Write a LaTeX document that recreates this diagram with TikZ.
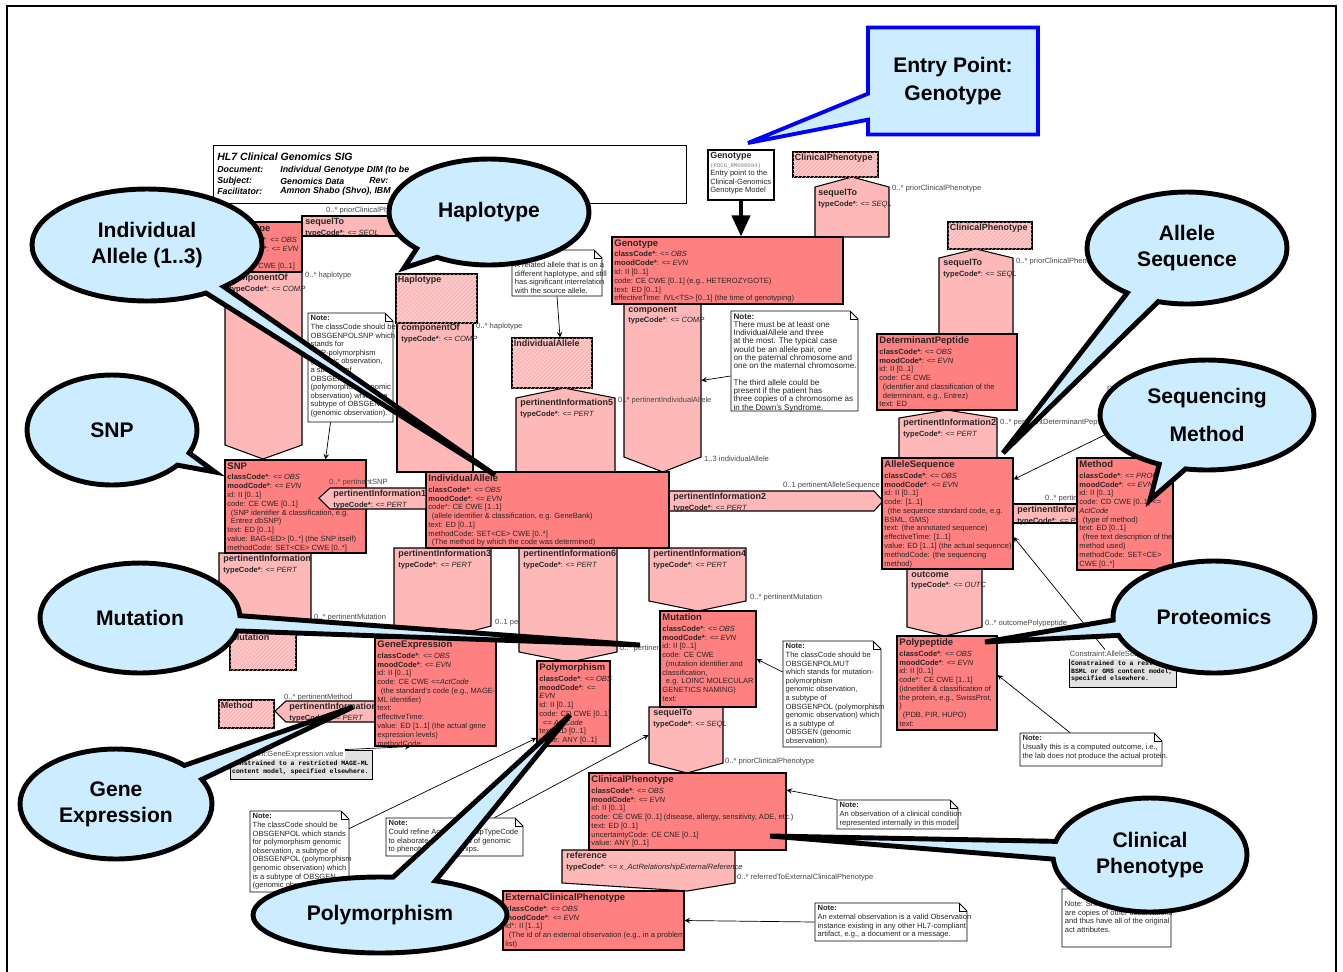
\documentclass[tikz,border=0pt]{standalone}
\usepackage{fontspec}
\setmainfont{Liberation Sans}
\setmonofont{Liberation Mono}
\usetikzlibrary{arrows.meta,fit,shapes.callouts,patterns.meta}

\definecolor{actred}{RGB}{255,128,128}
\definecolor{relpink}{RGB}{255,184,184}
\definecolor{cmetpink}{RGB}{255,200,200}
\definecolor{hatchred}{RGB}{242,168,168}
\definecolor{bubbleblue}{RGB}{204,236,255}
\definecolor{entryblue}{RGB}{0,0,255}
\definecolor{consgray}{RGB}{226,226,226}
\definecolor{lblgray}{RGB}{70,70,70}

\newcommand\clstxt{\fontsize{4.3}{5}\selectfont}
\newcommand\clstitle{\fontsize{5.4}{6}\selectfont\bfseries}
\newcommand\reltitle{\fontsize{5.1}{5.6}\selectfont\bfseries}
\newcommand\notetxt{\fontsize{4.3}{4.9}\selectfont}
\newcommand\bubtxt{\fontsize{12}{14.7}\selectfont\bfseries}
\newcommand\clscode[1]{\textbf{classCode*}: \textit{<= #1}}
\newcommand\moodcode[1]{\textbf{moodCode*}: \textit{<= #1}}
\newcommand\typecode[1]{\textbf{typeCode*}: \textit{<= #1}}
\newcommand\notebox[5]{%
  \draw[notedraw] (#2,#3) -- (#4-8,#3) -- (#4,#3+8) -- (#4,#5) -- (#2,#5) -- cycle;
  \draw[line width=0.4pt] (#4-8,#3) -- (#4-8,#3+8) -- (#4,#3+8);
  \node[fit={(#2,#3) (#4,#5)}, inner sep=0pt] (#1) {};}

\tikzset{
  actbox/.style={draw, fill=actred, inner sep=0pt, line width=0.6pt},
  cmetbox/.style={draw, fill=cmetpink, inner sep=0pt, line width=0.6pt,
    postaction={pattern={Lines[angle=45,distance=1.6pt,line width=0.3pt]}, pattern color=hatchred}},
  relshape/.style={draw, fill=relpink, line width=0.6pt},
  boxtext/.style={anchor=north west, align=left, inner sep=1.5pt, font=\clstxt, text=black!85},
  reltext/.style={anchor=north west, align=left, inner sep=1.2pt, font=\clstxt, text=black!85},
  notetext/.style={anchor=north west, align=left, inner sep=1.5pt, font=\notetxt, text=black!85},
  lbl/.style={anchor=west, inner sep=0.5pt, font=\clstxt, text=lblgray},
  notedraw/.style={draw, fill=white, line width=0.5pt},
  consbox/.style={draw, fill=consgray, inner sep=0pt, line width=0.5pt},
  constext/.style={anchor=north west, align=left, inner sep=1pt, font=\fontsize{3.7}{4.3}\selectfont\ttfamily\bfseries},
  hdrrow/.style={anchor=west, inner sep=0pt, font=\fontsize{5}{6}\selectfont\bfseries\itshape},
  link/.style={->, line width=0.4pt},
  bubble/.style={ellipse callout, draw, fill=bubbleblue, line width=2.8pt, font=\bubtxt, align=center, inner sep=0pt},
}

\begin{document}
\begin{tikzpicture}[x=0.02cm, y=-0.02cm, >=stealth]
\useasboundingbox (0,0) rectangle (1343,971);
\draw[line width=1.2pt] (7,975) -- (7,6) -- (1336,6) -- (1336,975);

\node[draw, fit={(213,145) (686,203)}, inner sep=0pt, line width=0.5pt] (header) {};
\node[anchor=west, inner sep=0pt, font=\fontsize{6}{7}\selectfont\bfseries\itshape] (hdrtitle) at (217,157) {HL7 Clinical Genomics SIG};
\node[hdrrow] (hdrdoc) at (217,170) {Document:};
\node[hdrrow] (hdrdocv) at (280,170) {Individual Genotype DIM (to be};
\node[hdrrow] (hdrsub) at (217,181) {Subject:};
\node[hdrrow] (hdrsubv) at (280,181) {Genomics Data};
\node[hdrrow] (hdrrev) at (369,181) {Rev:};
\node[hdrrow] (hdrfac) at (217,191) {Facilitator:};
\node[hdrrow] (hdrfacv) at (280,191) {Amnon Shabo (Shvo), IBM};

\node[lbl] (lblgenexp) at (494,623) {0..1 pertinentGeneExpression};

\draw[relshape] (815,237) -- (815,187) -- (852,177) -- (889,187) -- (889,237) -- cycle;
\node[reltext] (seqtoptxt) at (816,187) {{\reltitle sequelTo}\\[0.8pt]\typecode{SEQL}};
\draw[relshape] (302,216) rectangle (396,236);
\node[reltext] (seqlefttxt) at (303,216) {{\reltitle sequelTo}\\[0.8pt]\typecode{SEQL}};
\draw[relshape] (225,272) -- (302,272) -- (302,445) -- (263,459) -- (225,445) -- cycle;
\node[reltext] (compofatxt) at (227,272) {{\reltitle componentOf}\\[0.8pt]\typecode{COMP}};
\draw[relshape] (397,322) rectangle (473,472);
\node[reltext] (compofbtxt) at (399,322) {{\reltitle componentOf}\\[0.8pt]\typecode{COMP}};
\draw[relshape] (516,472) -- (516,398) -- (564,388) -- (615,398) -- (615,472) -- cycle;
\node[reltext] (pi5txt) at (518,397) {{\reltitle pertinentInformation5}\\[0.8pt]\typecode{PERT}};
\node[fit={(624,304) (701,457)}, inner sep=0pt] (component) {};
\draw[relshape] (624,304) -- (701,304) -- (701,457) -- (663,472) -- (624,457) -- cycle;
\node[reltext] (comptxt) at (626,304) {{\reltitle component}\\[0.8pt]\typecode{COMP}};
\draw[relshape] (219,553) -- (311,553) -- (311,620) -- (265,632) -- (219,620) -- cycle;
\node[reltext] (pisnptxt) at (221,553) {{\reltitle pertinentInformation}\\[0.8pt]\typecode{PERT}};
\draw[relshape] (394,548) -- (491,548) -- (491,626) -- (442,639) -- (394,626) -- cycle;
\node[reltext] (pi3txt) at (396,548) {{\reltitle pertinentInformation3}\\[0.8pt]\typecode{PERT}};
\draw[relshape] (519,548) -- (617,548) -- (617,652) -- (570,662) -- (519,652) -- cycle;
\node[reltext] (pi6txt) at (521,548) {{\reltitle pertinentInformation6}\\[0.8pt]\typecode{PERT}};
\draw[relshape] (649,548) -- (746,548) -- (746,601) -- (698,611) -- (649,601) -- cycle;
\node[reltext] (pi4txt) at (651,548) {{\reltitle pertinentInformation4}\\[0.8pt]\typecode{PERT}};
\node[fit={(649,707) (723,763)}, inner sep=0pt] (seqlow) {};
\draw[relshape] (649,707) -- (723,707) -- (723,763) -- (687,773) -- (649,763) -- cycle;
\node[reltext] (seqlowtxt) at (651,707) {{\reltitle sequelTo}\\[0.8pt]\typecode{SEQL}};
\draw[relshape] (375,701) -- (286,701) -- (275,711) -- (286,722) -- (375,722) -- cycle;
\node[reltext] (pigetxt) at (287,701) {{\reltitle pertinentInformation}\\[0.8pt]\typecode{PERT}};
\draw[relshape] (669,491) -- (874,491) -- (883,501) -- (874,511) -- (669,511) -- cycle;
\node[reltext] (pi2txt) at (671,491) {{\reltitle pertinentInformation2}\\[0.8pt]\typecode{PERT}};
\draw[relshape] (939,334) -- (939,258) -- (976,249) -- (1013,258) -- (1013,334) -- cycle;
\node[reltext] (seqrighttxt) at (941,257) {{\reltitle sequelTo}\\[0.8pt]\typecode{SEQL}};
\draw[relshape] (899,458) -- (899,418) -- (947,410) -- (997,418) -- (997,458) -- cycle;
\node[reltext] (pi2btxt) at (901,417) {{\reltitle pertinentInformation2}\\[0.8pt]\typecode{PERT}};
\draw[relshape] (1013,504) rectangle (1077,523);
\begin{scope}
  \clip (1013,490) rectangle (1077,530);
  \node[reltext] (pimtxt) at (1015,504) {{\reltitle pertinentInform}\\[0.8pt]\typecode{PE}};
  \node[lbl] (lblmeth2) at (1044,499) {0..* pertin};
\end{scope}
\draw[relshape] (907,569) -- (982,569) -- (982,627) -- (945,636) -- (907,627) -- cycle;
\node[reltext] (outctxt) at (909,569) {{\reltitle outcome}\\[0.8pt]\typecode{OUTC}};
\draw[relshape] (562,850) -- (735,850) -- (735,883) -- (687,891) -- (562,883) -- cycle;
\node[reltext] (reftxt) at (564,850) {{\reltitle reference}\\[0.8pt]\typecode{x\_ActRelationshipExternalReference}};

\node[lbl] (lblprior1) at (891,189) {0..* priorClinicalPhenotype};
\node[lbl] (lblprior2) at (325,211) {0..* priorClinicalPhenotype};
\node[lbl] (lblhap1) at (304,276) {0..* haplotype};
\node[lbl] (lblhap2) at (475,327) {0..* haplotype};
\node[lbl] (lblindiv) at (617,401) {0..* pertinentIndividualAllele};
\node[lbl] (lblia) at (703,459) {1..3 individualAllele};
\node[lbl] (lblas) at (782,486) {0..1 pertinentAlleleSequence};
\node[lbl] (lblprior3) at (1015,262) {0..* priorClinicalPhenotype};
\node[lbl] (lbldp) at (999,423) {0..* pertinentDeterminantPeptide};
\node[lbl] (lblmut1) at (313,618) {0..* pertinentMutation};
\begin{scope}
  \clip (610,640) rectangle (660,660);
  \node[lbl] (lblpoly) at (619,649) {0..* pertinen};
\end{scope}
\node[lbl] (lblmut2) at (749,598) {0..* pertinentMutation};
\node[lbl] (lblpp) at (984,624) {0..* outcomePolypeptide};
\node[lbl] (lblmeth1) at (283,698) {0..* pertinentMethod};
\node[lbl] (lblprior4) at (724,762) {0..* priorClinicalPhenotype};
\node[lbl] (lblext) at (736,878) {0..* referredToExternalClinicalPhenotype};

\node[cmetbox, fit={(793,152) (878,177)}] (cphtop) {};
\node[reltext] at (cphtop.north west) {\reltitle ClinicalPhenotype};
\node[cmetbox, fit={(948,222) (1032,249)}] (cphright) {};
\node[reltext] at (cphright.north west) {\reltitle ClinicalPhenotype};
\node[cmetbox, fit={(396,274) (477,323)}] (hapcmet) {};
\node[reltext] at (hapcmet.north west) {\reltitle Haplotype};
\node[cmetbox, fit={(512,338) (592,388)}] (iacmet) {};
\node[reltext] at (iacmet.north west) {\reltitle IndividualAllele};
\node[cmetbox, fit={(230,632) (296,670)}] (mutcmet) {};
\node[reltext] at (mutcmet.north west) {\reltitle Mutation};
\node[cmetbox, fit={(219,700) (274,728)}] (methcmet) {};
\node[reltext] at (methcmet.north west) {\reltitle Method};

\node[actbox, fit={(612,237) (843,304)}] (genotype) {};
\node[boxtext] at (genotype.north west) {{\clstitle Genotype}\\[1.2pt]\clscode{OBS}\\\moodcode{EVN}\\id: II [0..1]\\code: CE CWE [0..1] (e.g., HETEROZYGOTE)\\text: ED [0..1]\\effectiveTime: IVL<TS> [0..1] (the time of genotyping)};
\node[actbox, fit={(222,222) (302,272)}] (haplotype) {};
\node[boxtext] at (haplotype.north west) {{\clstitle Haplotype}\\[1.2pt]\clscode{OBS}\\\moodcode{EVN}\\id: II [0..1]\\code: CE CWE [0..1]};
\node[actbox, fit={(426,472) (669,548)}] (indivallele) {};
\node[boxtext] at (indivallele.north west) {{\clstitle IndividualAllele}\\[1.2pt]\clscode{OBS}\\\moodcode{EVN}\\code*: CE CWE [1..1]\\\hspace{2pt}(allele identifier \& classification, e.g. GeneBank)\\text: ED [0..1]\\methodCode: SET<CE> CWE [0..*]\\\hspace{2pt}(The method by which the code was determined)};
\node[actbox, fit={(225,460) (366,553)}] (snp) {};
\node[boxtext] at (snp.north west) {{\clstitle SNP}\\[1.2pt]\clscode{OBS}\\\moodcode{EVN}\\id: II [0..1]\\code: CE CWE [0..1]\\\hspace{2pt}(SNP identifier \& classification, e.g.\\\hspace{2pt}Entrez dbSNP)\\text: ED [0..1]\\value: BAG<ED> [0..*] (the SNP itself)\\methodCode: SET<CE> CWE [0..*]};
\draw[relshape] (426,488) -- (330,488) -- (319,498) -- (330,509) -- (426,509) -- cycle;
\node[reltext] (pi1txt) at (331,488) {{\reltitle pertinentInformation1}\\[0.8pt]\typecode{PERT}};
\node[lbl] (lblsnp) at (328,483) {0..* pertinentSNP};
\node[actbox, fit={(375,638) (496,746)}] (geneexp) {};
\node[boxtext] at (geneexp.north west) {{\clstitle GeneExpression}\\[1.2pt]\clscode{OBS}\\\moodcode{EVN}\\id: II [0..1]\\code: CE CWE \textit{<=ActCode}\\\hspace{2pt}(the standard's code (e.g., MAGE-\\ML identifier)\\text:\\effectiveTime:\\value: ED [1..1] (the actual gene\\expression levels)\\methodCode:};
\node[actbox, fit={(537,661) (610,746)}] (polymorph) {};
\node[boxtext] at (polymorph.north west) {{\clstitle Polymorphism}\\[1.2pt]\clscode{OBS}\\\textbf{moodCode*}: \textit{<=}\\\textit{EVN}\\id: II [0..1]\\code: CD CWE [0..1]\\\hspace{2pt}\textit{<= ActCode}\\text: ED [0..1]\\value: ANY [0..1]};
\node[actbox, fit={(660,611) (756,707)}] (mutation) {};
\node[boxtext] at (mutation.north west) {{\clstitle Mutation}\\[1.2pt]\clscode{OBS}\\\moodcode{EVN}\\id: II [0..1]\\code: CE CWE\\\hspace{2pt}(mutation identifier and\\classification,\\\hspace{2pt}e.g. LOINC MOLECULAR\\GENETICS NAMING)\\text:};
\node[actbox, fit={(589,773) (786,850)}] (clinpheno) {};
\node[boxtext] at (clinpheno.north west) {{\clstitle ClinicalPhenotype}\\[1.2pt]\clscode{OBS}\\\moodcode{EVN}\\id: II [0..1]\\code: CE CWE [0..1] (disease, allergy, sensitivity, ADE, etc.)\\text: ED [0..1]\\uncertaintyCode: CE CNE [0..1]\\value: ANY [0..1]};
\node[actbox, fit={(503,891) (684,950)}] (extpheno) {};
\node[boxtext] at (extpheno.north west) {{\clstitle ExternalClinicalPhenotype}\\[1.2pt]\clscode{OBS}\\\moodcode{EVN}\\id*: II [1..1]\\\hspace{2pt}(The id of an external observation (e.g., in a problem\\list)};
\node[actbox, fit={(877,334) (1017,410)}] (detpeptide) {};
\node[boxtext] at (detpeptide.north west) {{\clstitle DeterminantPeptide}\\[1.2pt]\clscode{OBS}\\\moodcode{EVN}\\id: II [0..1]\\code: CE CWE\\\hspace{2pt}(identifier and classification of the\\\hspace{2pt}determinant, e.g., Entrez)\\text: ED};
\node[actbox, fit={(882,458) (1013,569)}] (alleleseq) {};
\node[boxtext] at (alleleseq.north west) {{\clstitle AlleleSequence}\\[1.2pt]\clscode{OBS}\\\moodcode{EVN}\\id: II [0..1]\\code: [1..1]\\\hspace{2pt}(the sequence standard code, e.g.\\BSML, GMS)\\text: (the annotated sequence)\\effectiveTime: [1..1]\\value: ED [1..1] (the actual sequence)\\methodCode: (the sequencing\\method)};
\node[actbox, fit={(1077,458) (1173,570)}] (method) {};
\node[boxtext] at (method.north west) {{\clstitle Method}\\[1.2pt]\clscode{PROC}\\\moodcode{EVN}\\id: II [0..1]\\code: CD CWE [0..1] \textit{<=}\\\textit{ActCode}\\\hspace{2pt}(type of method)\\text: ED [0..1]\\\hspace{2pt}(free text description of the\\method used)\\methodCode: SET<CE>\\CWE [0..*]};
\node[actbox, fit={(897,636) (997,730)}] (polypep) {};
\node[boxtext] at (polypep.north west) {{\clstitle Polypeptide}\\[1.2pt]\clscode{OBS}\\\moodcode{EVN}\\id: II [0..1]\\code*: CE CWE [1..1]\\(idnetifier \& classification of\\the protein, e.g., SwissProt,\\)\\\hspace{2pt}(PDB, PIR, HUPO)\\text:};

\node[draw, fill=white, fit={(708,150) (774,200)}, inner sep=0pt, line width=0.8pt] (entry) {};
\node[notetext] (entrytxt) at (entry.north west) {{\reltitle Genotype}\\{\fontsize{3.2}{4}\selectfont\ttfamily\color{gray}(POCG\_RM000004)}\\Entry point to the\\Clinical-Genomics\\Genotype Model};
\draw[line width=2.3pt, -{Triangle[length=0.42cm,width=0.36cm]}] (entry.south) -- (entry.south |- genotype.north);

\notebox{note1}{308}{313}{393}{422}
\node[notetext] at (note1.north west) {\textbf{Note:}\\The classCode should be\\OBSGENPOLSNP which\\stands for\\SNP-polymorphism\\genomic observation,\\a subtype of\\OBSGENPOL\\(polymorphism genomic\\observation) which is a\\subtype of OBSGEN\\(genomic observation).};
\notebox{note2}{512}{250}{602}{296}
\node[notetext] at (512,259) {A related allele that is on a\\different haplotype, and still\\has significant interrelation\\with the source allele.};
\notebox{note3}{731}{311}{858}{411}
\node[notetext, font=\fontsize{4.6}{4.7}\selectfont] at (note3.north west) {\textbf{Note:}\\There must be at least one\\IndividualAllele and three\\at the most. The typical case\\would be an allele pair, one\\on the paternal chromosome and\\one on the maternal chromosome.\\[4.7pt]The third allele could be\\present if the patient has\\three copies of a chromosome as\\in the Down's Syndrome.};
\notebox{note4}{783}{641}{881}{747}
\node[notetext] at (note4.north west) {\textbf{Note:}\\The classCode should be\\OBSGENPOLMUT\\which stands for mutation-\\polymorphism\\genomic observation,\\a subtype of\\OBSGENPOL (polymorphism\\genomic observation) which\\is a subtype of\\OBSGEN (genomic\\observation).};
\notebox{note5}{1020}{733}{1162}{766}
\node[notetext] at (note5.north west) {\textbf{Note:}\\Usually this is a computed outcome, i.e.,\\the lab does not produce the actual protein.};
\notebox{note6}{837}{800}{958}{829}
\node[notetext] at (note6.north west) {\textbf{Note:}\\An observation of a clinical condition\\represented internally in this model.};
\notebox{note7}{815}{903}{967}{941}
\node[notetext] at (note7.north west) {\textbf{Note:}\\An external observation is a valid Observation\\instance existing in any other HL7-compliant\\artifact, e.g., a document or a message.};
\notebox{note8}{1062}{889}{1171}{947}
\node[notetext] at (1062,898) {Note: Shadows\\are copies of other observations\\and thus have all of the original\\act attributes.};
\notebox{note9}{250}{811}{349}{892}
\node[notetext] at (note9.north west) {\textbf{Note:}\\The classCode should be\\OBSGENPOL which stands\\for polymorphism genomic\\observation, a subtype of\\OBSGENPOL (polymorphism\\genomic observation) which\\is a subtype of OBSGEN\\(genomic observation).};
\notebox{note10}{386}{818}{523}{856}
\node[notetext] at (note10.north west) {\textbf{Note:}\\Could refine ActRelationshipTypeCode\\to elaborate on the types of genomic\\to phenotype relationships.};

\node[consbox, fit={(230,750) (372,779)}] (gecons) {};
\node[anchor=north west, inner sep=0.6pt, fill=white, font=\clstxt, text=lblgray] at (gecons.north west) {Constraint:GeneExpression.value};
\node[constext] at (230,759) {Constrained to a restricted MAGE-ML\\content model, specified elsewhere.};
\node[consbox, fit={(1069,650) (1176,687)}] (ascons) {};
\node[anchor=north west, inner sep=0.6pt, fill=white, font=\clstxt, text=lblgray] at (ascons.north west) {Constraint:AlleleSequence.value};
\node[constext] at (1069,659) {Constrained to a restricted\\BSML or GMS content model,\\specified elsewhere.};

\node[lbl] (dnote) at (1106,389) {D};
\coordinate (dnoteend) at (1125,425);

\draw[link] (note1.250) -- ([xshift=0.6cm]snp.north);
\draw[link] (note2.south) -- ([xshift=0.16cm]iacmet.north);
\draw[link] ([yshift=-0.3cm]note3.west) -- (component.east);
\draw[link] ([yshift=0.44cm]note4.west) -- (mutation.east);
\draw[link] ([xshift=-0.42cm]note5.north) -- ([yshift=0.16cm]polypep.east);
\draw[link] (note6.north west) -- ([yshift=0.43cm]clinpheno.east);
\draw[link] (note7.west) -- (extpheno.east);
\draw[link] ([yshift=0.46cm]note9.east) -- ([yshift=-0.69cm]polymorph.west);
\draw[link] ([xshift=0.8cm]note10.north) -- (seqlow.west);
\draw[link] ([xshift=-0.55cm]gecons.north east) -- ([xshift=-0.5cm]geneexp.south);
\draw[link] ([xshift=-0.35cm]ascons.north) -- ([yshift=-0.47cm]alleleseq.east);
\draw[link] (dnoteend) -- ([yshift=-0.44cm]alleleseq.north east);

\coordinate (tipentry) at (748,143);
\coordinate (tipia) at (495,475);
\coordinate (tiphap) at (404,268);
\coordinate (tipsnp) at (215,472);
\coordinate (tipmut) at (640,645);
\coordinate (tipge) at (353,707);
\coordinate (tippoly) at (570,715);
\coordinate (tipas) at (1003,453);
\coordinate (tipsm) at (1150,500);
\coordinate (tipprot) at (985,642);
\coordinate (tipcp) at (770,836);

\node[rectangle callout, draw=entryblue, fill=bubbleblue, line width=2.2pt, minimum width=3.4cm, minimum height=2.14cm, font=\bubtxt, align=center, callout absolute pointer={(tipentry)}, callout pointer width=0.52cm] (bubentry) at (953,81) {Entry Point:\\[1pt]Genotype};
\node[bubble, minimum width=4.6cm, minimum height=2.24cm, callout pointer arc=11, callout absolute pointer={(tipia)}] (bubia) at (147,245) {Individual\\Allele (1..3)};
\node[bubble, minimum width=4cm, minimum height=2.12cm, callout absolute pointer={(tiphap)}] (bubhap) at (489,212) {Haplotype};
\node[bubble, minimum width=3.4cm, minimum height=2.2cm, callout absolute pointer={(tipsnp)}] (bubsnp) at (112,430) {SNP};
\node[bubble, minimum width=4cm, minimum height=2.2cm, callout pointer arc=16, callout absolute pointer={(tipmut)}] (bubmut) at (140,618) {Mutation};
\node[bubble, minimum width=3.84cm, minimum height=2.2cm, callout pointer arc=18, callout absolute pointer={(tipge)}] (bubge) at (116,804) {Gene\\Expression};
\node[bubble, minimum width=5.08cm, minimum height=1.52cm, callout pointer arc=20, callout absolute pointer={(tippoly)}] (bubpoly) at (380,915) {Polymorphism};
\node[bubble, minimum width=4cm, minimum height=2.24cm, callout pointer arc=20, callout absolute pointer={(tipas)}] (bubas) at (1187,248) {Allele\\Sequence};
\node[bubble, minimum width=4.28cm, minimum height=2.2cm, callout absolute pointer={(tipsm)}] (bubsm) at (1207,415) {Sequencing\\[6.5pt]Method};
\node[bubble, minimum width=4.04cm, minimum height=2.24cm, callout pointer arc=16, callout absolute pointer={(tipprot)}] (bubprot) at (1214,617) {Proteomics};
\node[bubble, minimum width=3.88cm, minimum height=2.28cm, callout pointer arc=18, callout absolute pointer={(tipcp)}] (bubcp) at (1150,855) {Clinical\\Phenotype};
\end{tikzpicture}
\end{document}
